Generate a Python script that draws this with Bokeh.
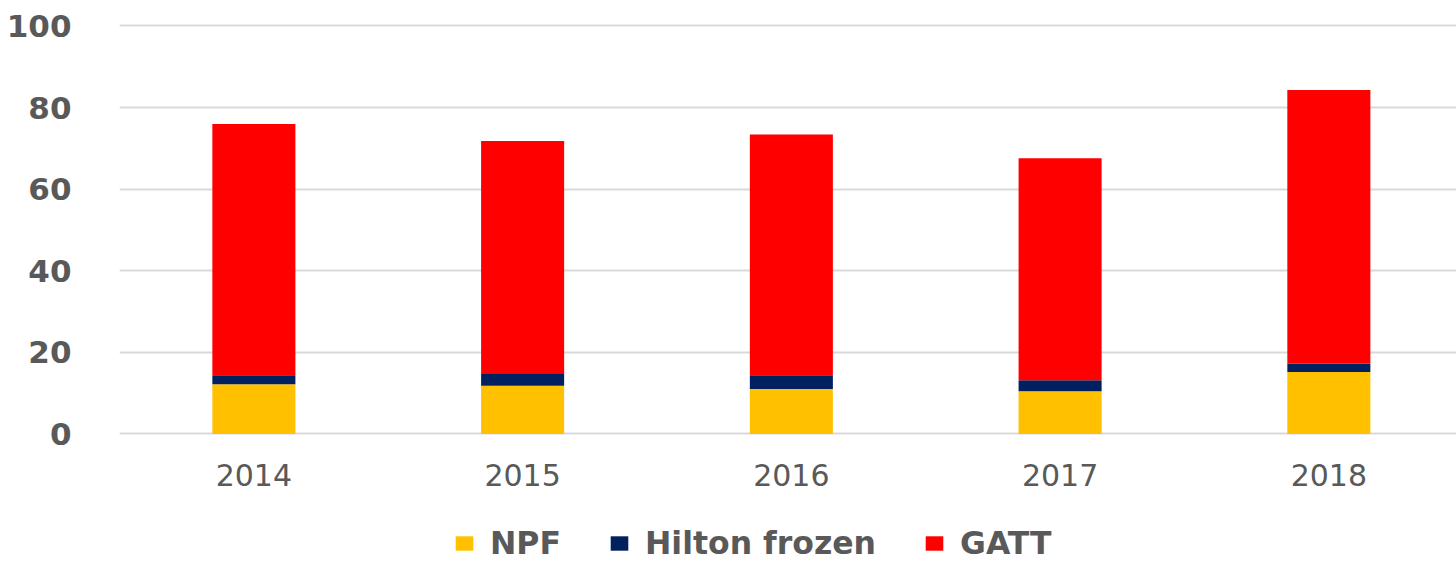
import numpy as np
from bokeh.plotting import figure
from bokeh.models import Range1d, FixedTicker, Legend, LegendItem, ColumnDataSource
from bokeh.embed import file_html
from bokeh.resources import INLINE

years = ["2014", "2015", "2016", "2017", "2018"]
npf = [12.2, 11.8, 11.0, 10.5, 15.2]
hilton = [2.2, 2.9, 3.4, 2.7, 2.1]
gatt = [61.6, 57.1, 59.0, 54.4, 67.0]
series = ["NPF", "Hilton frozen", "GATT"]
colors = ["#FFC000", "#002060", "#FF0000"]
y_ticks = [0, 20, 40, 60, 80, 100]

x = list(np.arange(len(years)) + 0.5)
src = ColumnDataSource(dict(x=x, NPF=npf, Hilton=hilton, GATT=gatt))

# the frame runs to the bottom of the canvas; the area below 0 holds the
# year labels (x axis fixed at y=0) and the legend
p = figure(width=1456, height=562, output_backend="svg", toolbar_location=None,
           x_range=Range1d(0, 4.975), y_range=Range1d(-31.5, 101.1),
           min_border_left=119, min_border_right=0, min_border_top=21, min_border_bottom=0)
p.outline_line_color = None

rs = p.vbar_stack(["NPF", "Hilton", "GATT"], x="x", width=0.309, source=src,
                  color=colors, line_color=None)

TXT = "#595959"
p.xaxis.fixed_location = 0
p.xaxis.ticker = FixedTicker(ticks=x)
p.xaxis.major_label_overrides = {float(v): y for v, y in zip(x, years)}
p.xaxis.major_label_text_font = "DejaVu Sans"
p.xaxis.major_label_text_font_size = "30px"
p.xaxis.major_label_text_color = TXT
p.xaxis.major_label_standoff = 24
p.xaxis.axis_line_color = None
p.xaxis.major_tick_line_color = None
p.xaxis.minor_tick_line_color = None

p.yaxis.ticker = FixedTicker(ticks=y_ticks)
p.yaxis.major_label_text_font = "DejaVu Sans"
p.yaxis.major_label_text_font_style = "bold"
p.yaxis.major_label_text_font_size = "31px"
p.yaxis.major_label_text_color = TXT
p.yaxis.major_label_standoff = 42
p.yaxis.axis_line_color = None
p.yaxis.major_tick_line_color = None
p.yaxis.minor_tick_line_color = None

p.xgrid.grid_line_color = None
p.ygrid.ticker = FixedTicker(ticks=y_ticks)
p.ygrid.grid_line_color = "#D9D9D9"
p.ygrid.grid_line_width = 2

legend = Legend(items=[LegendItem(label=s, renderers=[r]) for s, r in zip(series, rs)],
                orientation="horizontal", location=(334, 1),
                glyph_width=22, glyph_height=18, label_standoff=15, spacing=47,
                padding=0, margin=0, border_line_color=None, background_fill_alpha=0,
                label_text_font="DejaVu Sans", label_text_font_style="bold",
                label_text_font_size="31.5px", label_text_color=TXT)
p.add_layout(legend, "center")

open("out.html", "w").write(file_html(p, INLINE))
